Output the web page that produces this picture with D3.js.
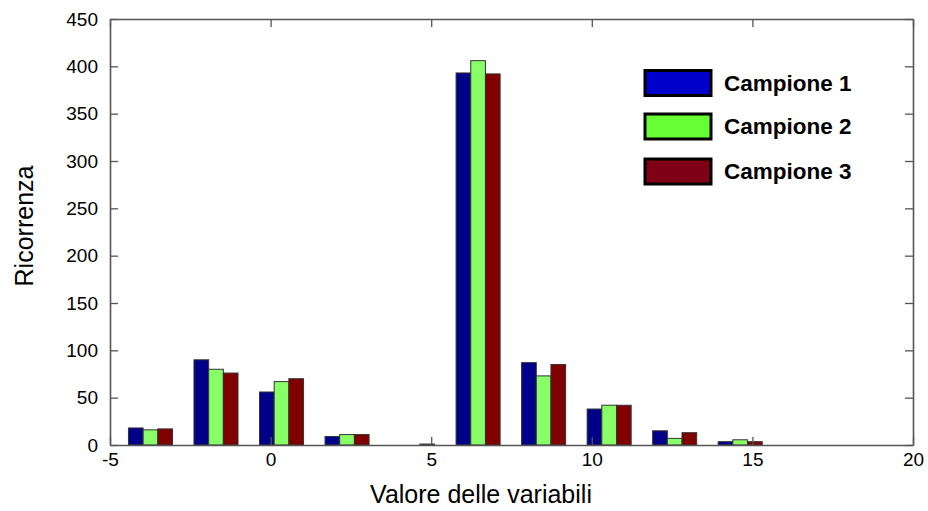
<!DOCTYPE html>
<html>
<head>
<meta charset="utf-8">
<script src="https://cdn.jsdelivr.net/npm/d3@7"></script>
<style>
  body { margin: 0; background: #fff; }
  svg { font-family: "Liberation Sans", Arial, sans-serif; }
</style>
</head>
<body>
<svg id="chart" width="928" height="511"></svg>
<script>
// bin centres on the x axis
const binCenters = [-3.74, -1.7, 0.34, 2.38, 4.42, 6.46, 8.5, 10.54, 12.58, 14.62];
// counts for each sample
const campione1 = [18, 90, 56, 9, 0, 393, 87, 38, 15, 3.5];
const campione2 = [16, 80, 67, 11, 0, 406, 73, 42, 7, 5.5];
const campione3 = [17, 76, 70, 11, 1, 392, 85, 42, 13, 3.5];
const seriesNames = ["Campione 1", "Campione 2", "Campione 3"];
const barColors = ["#000088", "#88ff66", "#800000"];
const legendColors = ["#0000cc", "#66ff33", "#800015"];
const xTicks = [-5, 0, 5, 10, 15, 20];
const yTicks = [0, 50, 100, 150, 200, 250, 300, 350, 400, 450];

const width = 928, height = 511;
const margin = { top: 19, right: 15, bottom: 66, left: 110 };
const svg = d3.select("#chart");

const x = d3.scaleLinear().domain([-5, 20]).range([margin.left, width - margin.right]);
const y = d3.scaleLinear().domain([0, 450]).range([height - margin.bottom, margin.top]);

const barW = 0.457; // bar width in data units
const series = [campione1, campione2, campione3];

// bars
series.forEach((vals, s) => {
  svg.append("g")
    .selectAll("rect")
    .data(vals.map((v, i) => ({ c: binCenters[i], v })))
    .join("rect")
    .attr("x", d => x(d.c + (s - 1.5) * barW))
    .attr("width", x(barW) - x(0))
    .attr("y", d => y(d.v))
    .attr("height", d => y(0) - y(d.v))
    .attr("fill", barColors[s])
    .attr("stroke", "#333")
    .attr("stroke-width", 1);
});

// axes with inward ticks
const tickLen = 8;
const axisColor = "#555";
const plain = d => String(d); // keep the ascii hyphen in "-5"

const gx = svg.append("g")
  .attr("transform", `translate(0,${y(0)})`)
  .call(d3.axisBottom(x).tickValues(xTicks).tickFormat(plain).tickSizeInner(-tickLen).tickSizeOuter(0).tickPadding(8));
const gxTop = svg.append("g")
  .attr("transform", `translate(0,${y(450)})`)
  .call(d3.axisTop(x).tickValues(xTicks).tickSizeInner(-tickLen).tickSizeOuter(0).tickFormat(""));
const gy = svg.append("g")
  .attr("transform", `translate(${x(-5)},0)`)
  .call(d3.axisLeft(y).tickValues(yTicks).tickFormat(plain).tickSizeInner(-tickLen).tickSizeOuter(0).tickPadding(12));
const gyRight = svg.append("g")
  .attr("transform", `translate(${x(20)},0)`)
  .call(d3.axisRight(y).tickValues(yTicks).tickSizeInner(-tickLen).tickSizeOuter(0).tickFormat(""));

[gx, gxTop, gy, gyRight].forEach(g => {
  g.select(".domain").attr("stroke", axisColor).attr("stroke-width", 1.6);
  g.selectAll(".tick line").attr("stroke", axisColor).attr("stroke-width", 1.3);
  g.selectAll(".tick text")
    .attr("fill", "#000")
    .style("font-size", "19px");
});

// axis titles
svg.append("text")
  .attr("x", 481)
  .attr("y", 503)
  .attr("text-anchor", "middle")
  .style("font-size", "25px")
  .text("Valore delle variabili");

svg.append("text")
  .attr("transform", `translate(33,${(y(0) + y(450)) / 2 - 6}) rotate(-90)`)
  .attr("text-anchor", "middle")
  .style("font-size", "25px")
  .text("Ricorrenza");

// legend
const legendRows = [82.5, 126, 171];
const legend = svg.append("g");
seriesNames.forEach((name, i) => {
  legend.append("rect")
    .attr("x", 645)
    .attr("y", legendRows[i] - 12)
    .attr("width", 66)
    .attr("height", 25)
    .attr("fill", legendColors[i])
    .attr("stroke", "#000")
    .attr("stroke-width", 3);
  legend.append("text")
    .attr("x", 724)
    .attr("y", legendRows[i] + 8)
    .style("font-size", "22.5px")
    .style("font-weight", "bold")
    .text(name);
});
</script>
</body>
</html>
